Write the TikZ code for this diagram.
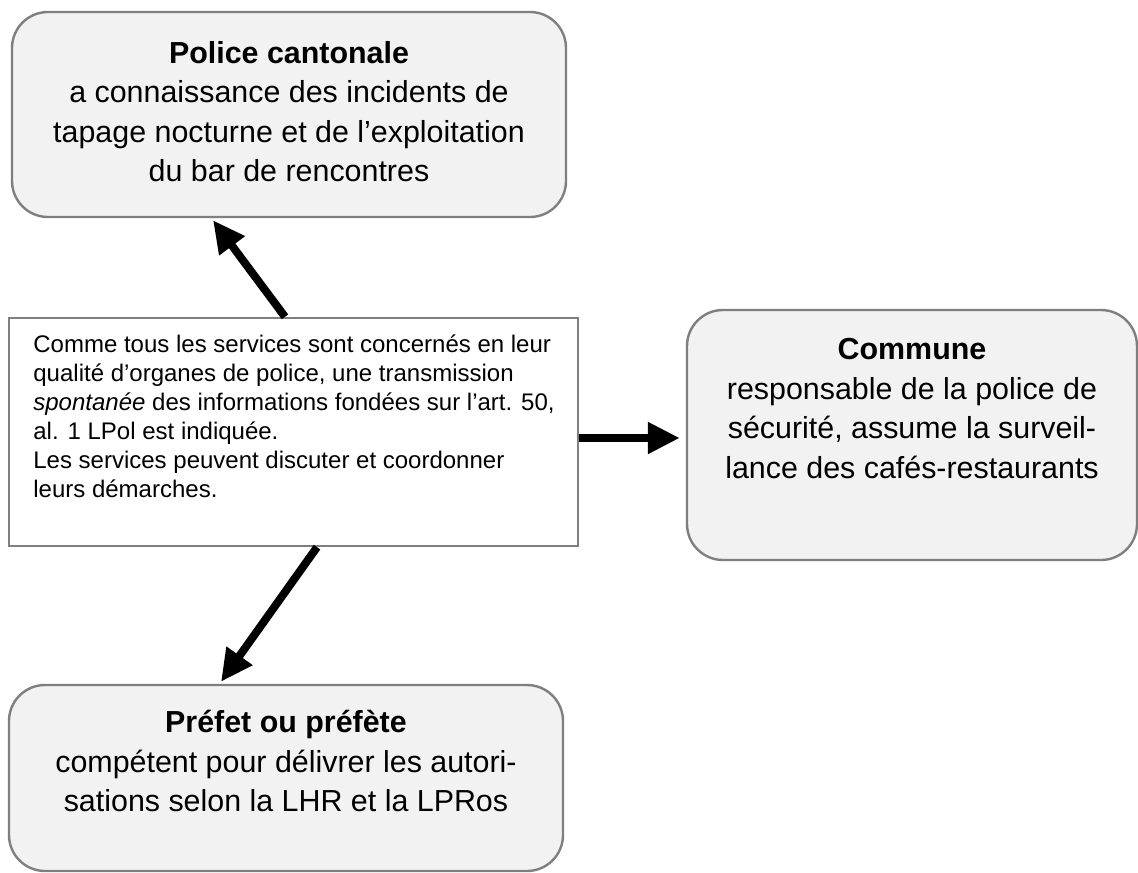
\documentclass[tikz,border=0pt]{standalone}
\usepackage{fontspec}
\setmainfont{Liberation Sans}
\usetikzlibrary{arrows.meta}
\definecolor{boxgray}{HTML}{F2F2F2}
\definecolor{edgegray}{HTML}{7F7F7F}

\begin{document}
\begin{tikzpicture}[x=0.5pt, y=-0.5pt, >={Triangle[length=16pt, width=15pt]},
	rbox/.style={draw=edgegray, fill=boxgray, line width=1.2pt, rounded corners=18pt, inner sep=0pt},
	tbox/.style={draw=edgegray, fill=white, line width=1.2pt, inner sep=0pt},
	btxt/.style={anchor=base, align=center, inner sep=0pt, font=\fontsize{15.2}{19.75}\selectfont},
	link/.style={->, line width=4pt}]
	\useasboundingbox (0,0) rectangle (1138,872);
	\node[rbox, minimum width=277pt, minimum height=102.5pt] (pol) at (289,114.5) {};
	\node[tbox, minimum width=284.5pt, minimum height=114pt] (ctr) at (293.5,432) {};
	\node[rbox, minimum width=225pt, minimum height=125pt] (com) at (912,435) {};
	\node[rbox, minimum width=277pt, minimum height=93pt] (pre) at (286,778) {};
	\node[btxt] (poltxt) at ([yshift=-85.5pt]pol.north) {\textbf{Police cantonale}\\a connaissance des incidents de\\tapage nocturne et de l’exploitation\\du bar de rencontres};
	\node[btxt] (comtxt) at ([yshift=-84.75pt]com.north) {\textbf{Commune}\\responsable de la police de\\sécurité, assume la surveil-\\lance des cafés-restaurants};
	\node[btxt] (pretxt) at ([yshift=-64pt]pre.north) {\textbf{Préfet ou préfète}\\compétent pour délivrer les autori-\\sations selon la LHR et la LPRos};
	\node[anchor=base west, align=left, inner sep=0pt, font=\fontsize{12}{14.5}\selectfont] (ctrtxt) at (33,497) {Comme tous les services sont concernés en leur\\qualité d’organes de police, une transmission\\\emph{spontanée} des informations fondées sur l’art. 50,\\al. 1 LPol est indiquée.\\Les services peuvent discuter et coordonner\\leurs démarches.};
	\draw[link] ([xshift=-4.25pt]ctr.north) -- ([xshift=-38pt, yshift=-1pt]pol.south);
	\draw[link] ([yshift=-3pt]ctr.east) -- ([xshift=-3pt, yshift=-1.5pt]com.west);
	\draw[link] ([xshift=11.75pt]ctr.south) -- ([xshift=-32.5pt, yshift=1pt]pre.north);
\end{tikzpicture}
\end{document}
